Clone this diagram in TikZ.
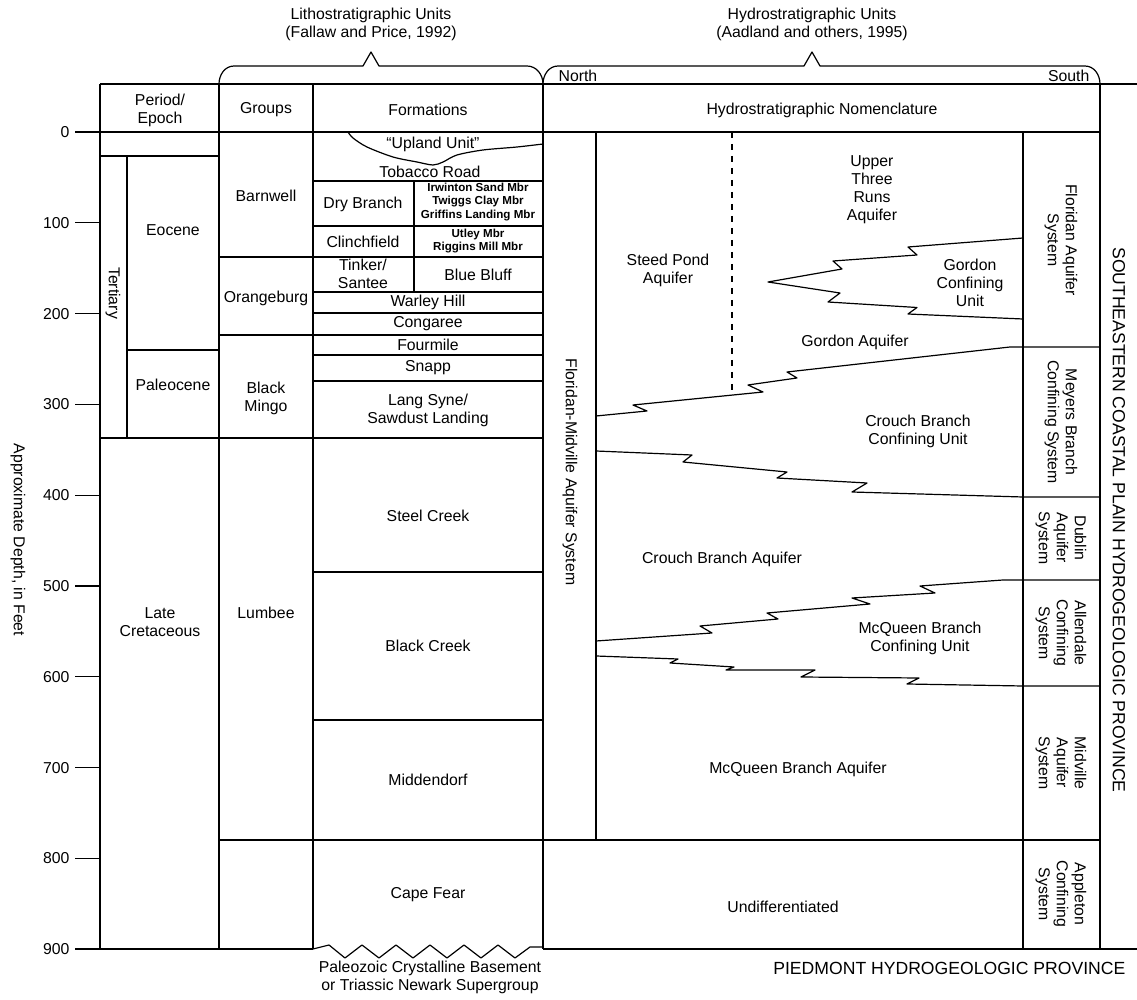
\documentclass[tikz,border=0pt]{standalone}
\usepackage{fontspec}
\setmainfont{Liberation Sans}
\usepackage{tikz}

\begin{document}
\begin{tikzpicture}[x = 0.5pt, y = -0.5pt, line width = 0.6pt, line join = round,
  lbl/.style = {font = \fontsize{7.9}{9}\selectfont, align = center, inner sep = 0pt},
  mbr/.style = {font = \fontsize{5.8}{6.75}\selectfont\bfseries, align = center, inner sep = 0pt},
  vlbl/.style = {lbl, rotate = -90},
  prov/.style = {font = \fontsize{8.8}{10}\selectfont, inner sep = 0pt}]
\useasboundingbox (0,0) rectangle (1137,1000);

% titles and braces
\node[lbl] (litho) at (371,24) {Lithostratigraphic Units\\(Fallaw and Price, 1992)};
\node[lbl] (hydro) at (812,24) {Hydrostratigraphic Units\\(Aadland and others, 1995)};
\draw (219,84) to[out = 90, in = 180] (234,66) -- (363,66) -- (371,52) -- (379,66) -- (527,66) to[out = 0, in = 90] (543,84);
\draw (543,84) to[out = 90, in = 180] (558,66) -- (804,66) -- (812,52) -- (820,66) -- (1085,66) to[out = 0, in = 90] (1100,84);
\node[lbl, anchor = west] (north) at (558,76) {North};
\node[lbl, anchor = east] (south) at (1090,76) {South};

% frame
\draw (100,84) -- (1137,84);
\draw (75,132) -- (1100,132);
\draw (75,949) -- (313,949);
\draw (543,949) -- (1137,949);
\foreach \x in {100,219,313,543,1100}
  \draw (\x,84) -- (\x,949);
\foreach \d in {0,100,...,900}
{
  \pgfmathsetmacro{\yy}{132+0.908*\d}
  \draw (75,\yy) -- (100,\yy);
  \node[lbl, anchor = east] (tick\d) at (70,\yy) {\d};
}
\node[vlbl] (depth) at (18,540) {Approximate Depth, in Feet};

% period / epoch
\draw (100,156) -- (219,156);
\draw (127,156) -- (127,438);
\draw (127,350) -- (219,350);
\draw (100,438) -- (543,438);
\node[lbl] (period) at (160,110) {Period/\\Epoch};
\node[vlbl] (tertiary) at (113,293) {Tertiary};
\node[lbl] (eocene) at (173,230) {Eocene};
\node[lbl] (paleocene) at (173,385) {Paleocene};
\node[lbl] (latecret) at (160,622) {Late\\Cretaceous};

% groups
\draw (219,257) -- (543,257);
\draw (219,335) -- (543,335);
\draw (219,840) -- (1100,840);
\node[lbl] (groups) at (266,110) {Groups};
\node[lbl] (barnwell) at (266,196) {Barnwell};
\node[lbl] (orangeburg) at (266,298) {Orangeburg};
\node[lbl] (blackmingo) at (266,398) {Black\\Mingo};
\node[lbl] (lumbee) at (266,613) {Lumbee};

% formations
\foreach \y in {181,226,292,313,355,381,572,720}
  \draw (313,\y) -- (543,\y);
\draw (414,181) -- (414,292);
\draw plot[smooth] coordinates {(348,132) (353,138) (367,147) (393,157) (417,162) (433,165) (443,162) (457,155) (483,150) (517,147) (543,144)};
\draw (313,949) -- (329,945) -- (345,958) -- (362,945) -- (379,958) -- (396,945) -- (413,958) -- (430,945) -- (447,958) -- (464,945) -- (481,958) -- (498,945) -- (515,958) -- (530,947) -- (543,947);
\node[lbl] (formations) at (428,110) {Formations};
\node[lbl] (upland) at (433,144) {``Upland Unit''};
\node[lbl] (tobacco) at (430,172) {Tobacco Road};
\node[lbl] (drybranch) at (363,204) {Dry Branch};
\node[mbr] (drymbr) at (478,202) {Irwinton Sand Mbr\\Twiggs Clay Mbr\\Griffins Landing Mbr};
\node[lbl] (clinch) at (363,242) {Clinchfield};
\node[mbr] (clinchmbr) at (478,241) {Utley Mbr\\Riggins Mill Mbr};
\node[lbl] (tinker) at (363,274) {Tinker/\\Santee};
\node[lbl] (bluebluff) at (478,275) {Blue Bluff};
\node[lbl] (warley) at (428,302) {Warley Hill};
\node[lbl] (congaree) at (428,324) {Congaree};
\node[lbl] (fourmile) at (428,345) {Fourmile};
\node[lbl] (snapp) at (428,368) {Snapp};
\node[lbl] (langsyne) at (428,410) {Lang Syne/\\Sawdust Landing};
\node[lbl] (steelcreek) at (428,516) {Steel Creek};
\node[lbl] (blackcreek) at (428,646) {Black Creek};
\node[lbl] (middendorf) at (428,780) {Middendorf};
\node[lbl] (capefear) at (428,895) {Cape Fear};
\node[lbl] (basement) at (430,977) {Paleozoic Crystalline Basement\\or Triassic Newark Supergroup};

% hydrostratigraphic units
\draw (596,132) -- (596,840);
\draw (1023,132) -- (1023,949);
\draw[dashed] (732,132) -- (732,394.5);
\draw (1023,238) -- (908,247) -- (917,255) -- (833,261) -- (842,269) -- (768,282) -- (840,293) -- (828,302) -- (917,307.5) -- (908,314) -- (1023,319);
\draw (596,416) -- (647,411) -- (633,405) -- (763,392) -- (748,385) -- (797,378) -- (787,372) -- (1010,347) -- (1100,347);
\draw (596,451) -- (692,455) -- (683,462) -- (787,472) -- (777,478) -- (867,483) -- (852,492) -- (1023,497) -- (1100,497);
\draw (596,641) -- (712,633) -- (700,626) -- (778,619) -- (767,613) -- (870,604) -- (852,598) -- (935,593) -- (920,586) -- (1003,580) -- (1100,580);
\draw (596,656) -- (678,659) -- (670,663) -- (734,667) -- (726,670) -- (815,670) -- (801,677) -- (919,678) -- (907,684) -- (1023,686) -- (1100,686);
\node[lbl] (nomencl) at (822,110) {Hydrostratigraphic Nomenclature};
\node[vlbl] (flmid) at (570,472) {Floridan-Midville Aquifer System};
\node[lbl] (steed) at (668,270) {Steed Pond\\Aquifer};
\node[lbl] (utr) at (872,190) {Upper\\Three\\Runs\\Aquifer};
\node[lbl] (gordoncu) at (970,283) {Gordon\\Confining\\Unit};
\node[lbl] (gordon) at (855,342) {Gordon Aquifer};
\node[lbl] (cbcu) at (918,431) {Crouch Branch\\Confining Unit};
\node[lbl] (cba) at (722,559) {Crouch Branch Aquifer};
\node[lbl] (mbcu) at (920,638) {McQueen Branch\\Confining Unit};
\node[lbl] (mba) at (798,769) {McQueen Branch Aquifer};
\node[lbl] (undiff) at (783,907) {Undifferentiated};

% systems
\node[vlbl] (floridan) at (1061,240) {Floridan Aquifer\\System};
\node[vlbl] (meyers) at (1061,422) {Meyers Branch\\Confining System};
\node[vlbl] (dublin) at (1061,538) {Dublin\\Aquifer\\System};
\node[vlbl] (allendale) at (1061,633) {Allendale\\Confining\\System};
\node[vlbl] (midville) at (1061,763) {Midville\\Aquifer\\System};
\node[vlbl] (appleton) at (1061,894) {Appleton\\Confining\\System};
\node[prov, rotate = -90] (secp) at (1119,520) {SOUTHEASTERN COASTAL PLAIN HYDROGEOLOGIC PROVINCE};
\node[prov, anchor = east] (piedmont) at (1126,968) {PIEDMONT HYDROGEOLOGIC PROVINCE};
\end{tikzpicture}
\end{document}
